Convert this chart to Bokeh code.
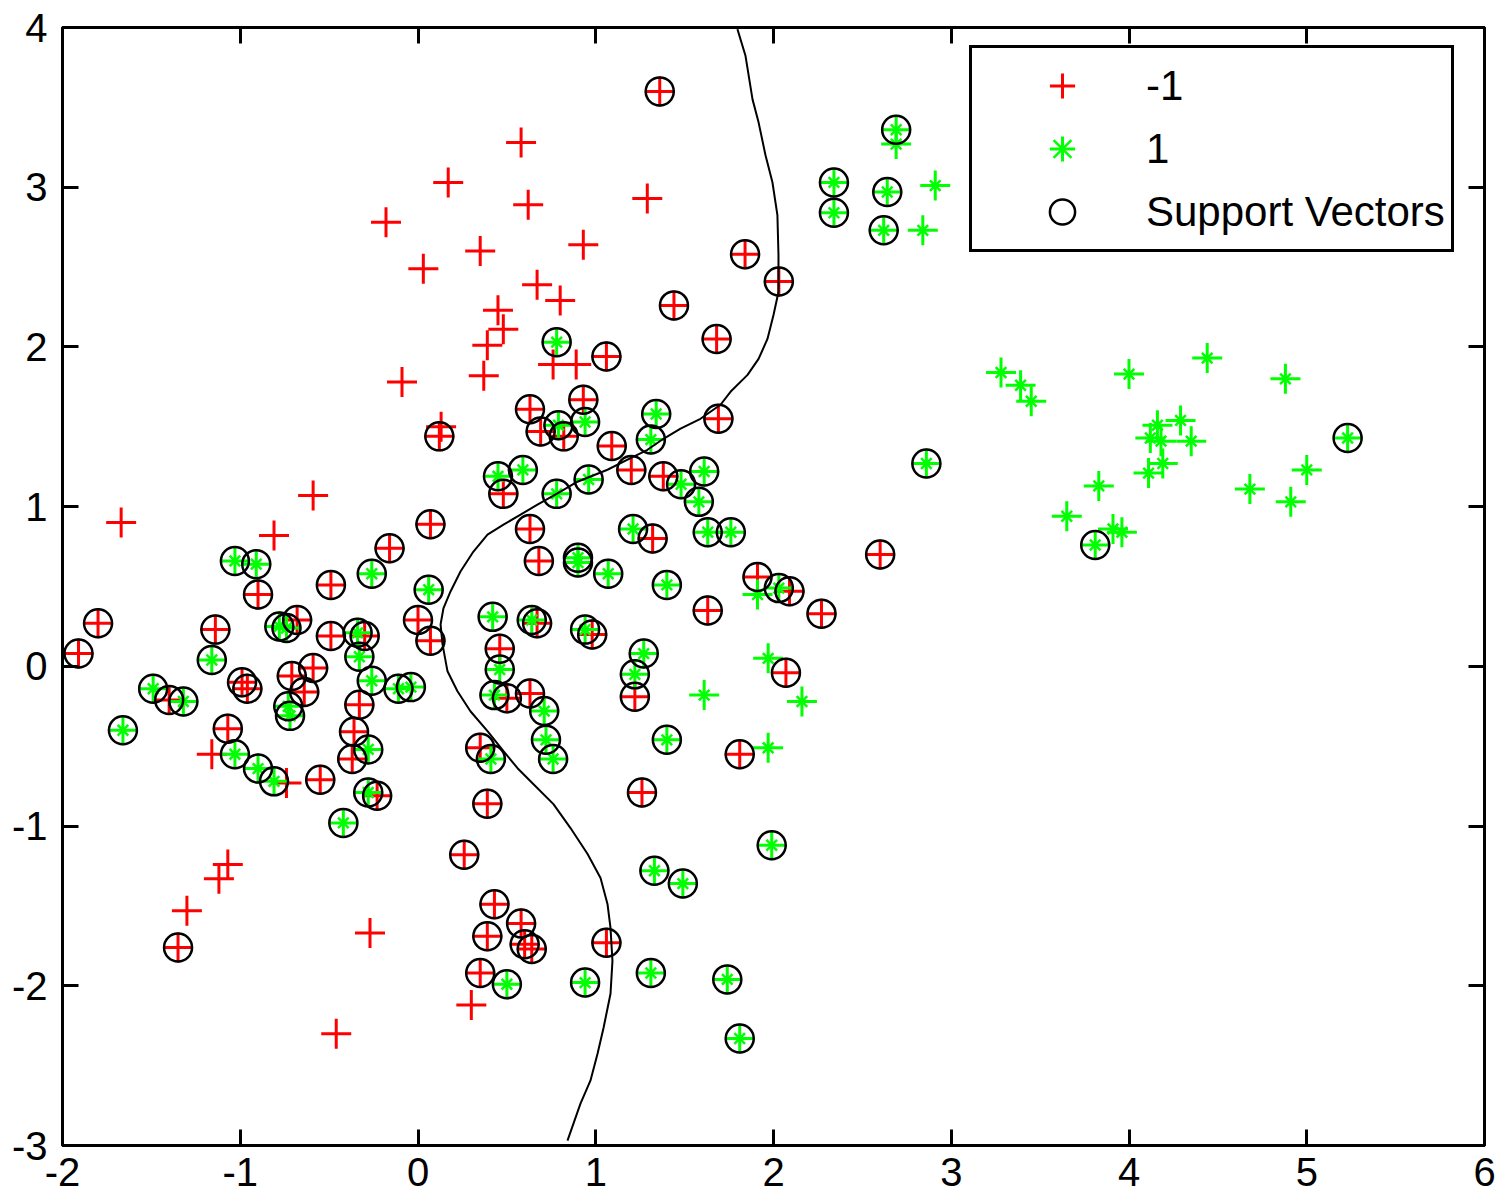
from bokeh.plotting import figure
from bokeh.models import Range1d, LinearAxis, FixedTicker, Legend, LegendItem
from bokeh.embed import file_html
from bokeh.resources import INLINE

x_ticks = [-2, -1, 0, 1, 2, 3, 4, 5, 6]
y_ticks = [-3, -2, -1, 0, 1, 2, 3, 4]

# class -1 (red +), not support vectors
neg_x = [-1.67, -0.81, -0.59, -0.46, -0.27, -1.30, -1.12, -1.07, 0.30, -0.09, -0.18, 0.17, 0.03,
         0.58, 0.35, 0.62, 0.67, 0.80, 0.45, 0.48, 0.39, 0.37, 0.76, 0.89, 0.93, 1.29, 0.13, -1.16, -0.74]
neg_y = [0.90, 0.82, 1.07, -2.30, -1.67, -1.53, -1.33, -1.24, -2.12, 1.78, 2.78, 3.03, 2.49,
         3.28, 2.60, 2.89, 2.39, 2.29, 2.23, 2.11, 2.01, 1.82, 1.89, 1.89, 2.64, 2.93, 1.50, -0.55, -0.73]

# class -1 (red +), support vectors
neg_sv_x = [1.36, 1.84, 2.03, 1.44, 1.68, 1.06, 0.12, 0.63, 0.93, 0.69,
            0.82, 1.69, 1.09, 1.20, 1.38, 0.48, 0.07, 0.63, 1.32, 0.68,
            1.91, 2.09, 0.00, 0.07, 0.67, 0.98, 0.46, 0.50, 0.63, 0.35,
            1.22, 2.07, 1.81, 2.60, 2.27, -0.16, -0.49, -0.90, -1.80, -1.91,
            -1.14, -0.68, -0.49, -0.30, -0.59, -0.71, -0.64, -0.99, -0.96, -1.40,
            -1.07, -0.33, -0.36, -0.37, -0.55, -0.23, -1.35, 0.39, 0.26, 0.43,
            0.58, 0.39, 0.60, 0.64, 0.35, 1.06, 1.26, 1.63]
neg_sv_y = [3.60, 2.58, 2.41, 2.26, 2.05, 1.94, 1.44, 1.61, 1.67, 1.47,
            1.44, 1.55, 1.38, 1.23, 1.19, 1.08, 0.89, 0.86, 0.80, 0.66,
            0.56, 0.47, 0.29, 0.16, 0.27, 0.20, 0.11, -0.20, -0.17, -0.51,
            -0.19, -0.04, -0.55, 0.70, 0.33, 0.74, 0.51, 0.45, 0.27, 0.08,
            0.23, 0.29, 0.19, 0.19, -0.01, -0.06, -0.16, -0.10, -0.14, -0.21,
            -0.39, -0.24, -0.41, -0.58, -0.71, -0.81, -1.76, -0.86, -1.18, -1.49,
            -1.61, -1.69, -1.74, -1.77, -1.92, -1.73, -0.79, 0.35]

# class 1 (green *), not support vectors
pos_x = [2.69, 2.91, 2.84, 3.28, 3.39, 3.45, 4.00, 4.44, 4.88, 4.16, 4.12, 4.18, 4.11, 4.19,
         4.29, 4.35, 5.00, 4.68, 4.91, 3.83, 3.65, 3.91, 3.96, 2.16, 1.91, 1.61, 1.97, 1.97]
pos_y = [3.27, 3.01, 2.73, 1.84, 1.76, 1.66, 1.83, 1.93, 1.80, 1.51, 1.43, 1.41, 1.21, 1.27,
         1.54, 1.41, 1.23, 1.11, 1.03, 1.13, 0.94, 0.86, 0.84, -0.22, 0.45, -0.18, 0.05, -0.51]

# class 1 (green *), support vectors
pos_sv_x = [2.69, 2.34, 2.34, 2.64, 2.62, 5.23, 3.81, 2.86, 0.78, 0.79,
            0.94, 1.34, 1.31, 1.48, 1.61, 1.58, 1.63, 1.76, 0.59, 0.45,
            0.96, 0.78, 1.21, 0.90, 0.90, 1.07, 1.40, 2.03, 0.06, 0.42,
            0.64, 0.94, 0.46, 0.43, 0.71, 0.72, 0.76, 0.41, 1.27, 1.22,
            1.40, -0.26, -1.03, -0.91, -1.16, -0.78, -0.74, -0.34, -0.33, -0.26,
            -0.11, -0.04, -0.73, -0.72, -1.49, -1.32, -1.66, -1.03, -0.90, -0.81,
            -0.28, -0.28, -0.42, 0.50, 0.94, 1.99, 1.33, 1.49, 1.31, 1.74, 1.81]
pos_sv_y = [3.36, 3.03, 2.84, 2.97, 2.73, 1.43, 0.76, 1.27, 2.03, 1.51,
            1.53, 1.58, 1.42, 1.14, 1.22, 1.03, 0.84, 0.84, 1.23, 1.19,
            1.17, 1.08, 0.86, 0.68, 0.65, 0.58, 0.51, 0.49, 0.48, 0.31,
            0.29, 0.23, -0.02, -0.18, -0.28, -0.46, -0.58, -0.58, 0.08, -0.05,
            -0.46, 0.58, 0.66, 0.64, 0.04, 0.25, 0.24, 0.21, 0.06, -0.09,
            -0.14, -0.13, -0.25, -0.31, -0.14, -0.22, -0.40, -0.55, -0.64, -0.72,
            -0.52, -0.79, -0.98, -1.99, -1.98, -1.12, -1.28, -1.36, -1.92, -1.96, -2.33]

# decision boundary
boundary_x = [1.797, 1.842, 1.882, 1.916, 1.955, 1.994, 2.022, 2.028, 2.028, 2.000, 1.966, 1.916,
              1.854, 1.758, 1.702, 1.589, 1.477, 1.381, 1.291, 1.179, 1.066, 0.897, 0.802, 0.672,
              0.577, 0.481, 0.391, 0.312, 0.239, 0.183, 0.143, 0.127, 0.138, 0.166, 0.222, 0.295,
              0.391, 0.481, 0.560, 0.633, 0.762, 0.858, 0.954, 1.027, 1.066, 1.083, 1.094, 1.083,
              1.044, 1.010, 0.970, 0.914, 0.841]
boundary_y = [3.99, 3.825, 3.55, 3.406, 3.20, 3.031, 2.825, 2.575, 2.344, 2.20, 2.05, 1.925,
              1.825, 1.719, 1.638, 1.55, 1.488, 1.425, 1.356, 1.294, 1.231, 1.156, 1.094, 1.0125,
              0.95, 0.8875, 0.825, 0.719, 0.594, 0.469, 0.3625, 0.2625, 0.1375, -0.031, -0.156, -0.281,
              -0.406, -0.531, -0.6375, -0.719, -0.8625, -1.0125, -1.175, -1.325, -1.4875, -1.6375, -1.844, -2.05,
              -2.2625, -2.425, -2.594, -2.7375, -2.969]

FONT = "Liberation Sans"

p = figure(width=1499, height=1201, output_backend="svg", toolbar_location=None,
           x_range=Range1d(-2, 6), y_range=Range1d(-3, 4),
           min_border_left=62, min_border_right=15, min_border_top=27, min_border_bottom=56,
           background_fill_color="white", border_fill_color="white")
p.grid.visible = False
p.outline_line_color = "black"
p.outline_line_width = 3


def style_axis(ax, ticks, show_labels, standoff=10):
    ax.ticker = FixedTicker(ticks=ticks)
    ax.axis_line_color = "black"
    ax.axis_line_width = 3
    ax.major_tick_line_color = "black"
    ax.major_tick_line_width = 3
    ax.major_tick_in = 16
    ax.major_tick_out = 0
    ax.minor_tick_line_color = None
    ax.major_label_standoff = standoff
    ax.major_label_text_font = FONT
    ax.major_label_text_color = "black"
    if show_labels:
        ax.major_label_text_font_size = "40px"
        ax.major_label_overrides = {t: str(t) for t in ticks}
    else:
        ax.major_label_text_font_size = "0px"
        ax.major_label_overrides = {t: "" for t in ticks}


style_axis(p.xaxis[0], x_ticks, True, standoff=12)
style_axis(p.yaxis[0], y_ticks, True, standoff=15)
top_axis = LinearAxis()
style_axis(top_axis, x_ticks, False, standoff=0)
right_axis = LinearAxis()
style_axis(right_axis, y_ticks, False, standoff=0)
p.add_layout(top_axis, "above")
p.add_layout(right_axis, "right")

r_neg = p.scatter(neg_x + neg_sv_x, neg_y + neg_sv_y, marker="cross", size=30,
                  line_color="#ff0000", line_width=3)
r_pos_a = p.scatter(pos_x + pos_sv_x, pos_y + pos_sv_y, marker="cross", size=30,
                    line_color="#00ff00", line_width=3)
r_pos_b = p.scatter(pos_x + pos_sv_x, pos_y + pos_sv_y, marker="x", size=15,
                    line_color="#00ff00", line_width=2.5)
r_sv = p.scatter(neg_sv_x + pos_sv_x, neg_sv_y + pos_sv_y, marker="circle", size=28,
                 fill_color=None, line_color="black", line_width=2.5)
p.line(boundary_x, boundary_y, line_color="black", line_width=2)

legend = Legend(items=[LegendItem(label="-1", renderers=[r_neg]),
                       LegendItem(label="1", renderers=[r_pos_a, r_pos_b]),
                       LegendItem(label="Support Vectors", renderers=[r_sv])],
                location=(907, 893))
legend.padding = 6
legend.spacing = 0
legend.margin = 0
legend.glyph_width = 168
legend.glyph_height = 63
legend.label_standoff = 0
legend.label_height = 63
legend.label_text_font = FONT
legend.label_text_font_size = "42px"
legend.label_text_color = "black"
legend.border_line_color = "black"
legend.border_line_alpha = 1.0
legend.border_line_width = 3
legend.background_fill_color = "white"
legend.background_fill_alpha = 1.0
p.add_layout(legend)

open("out.html", "w").write(file_html(p, INLINE))
